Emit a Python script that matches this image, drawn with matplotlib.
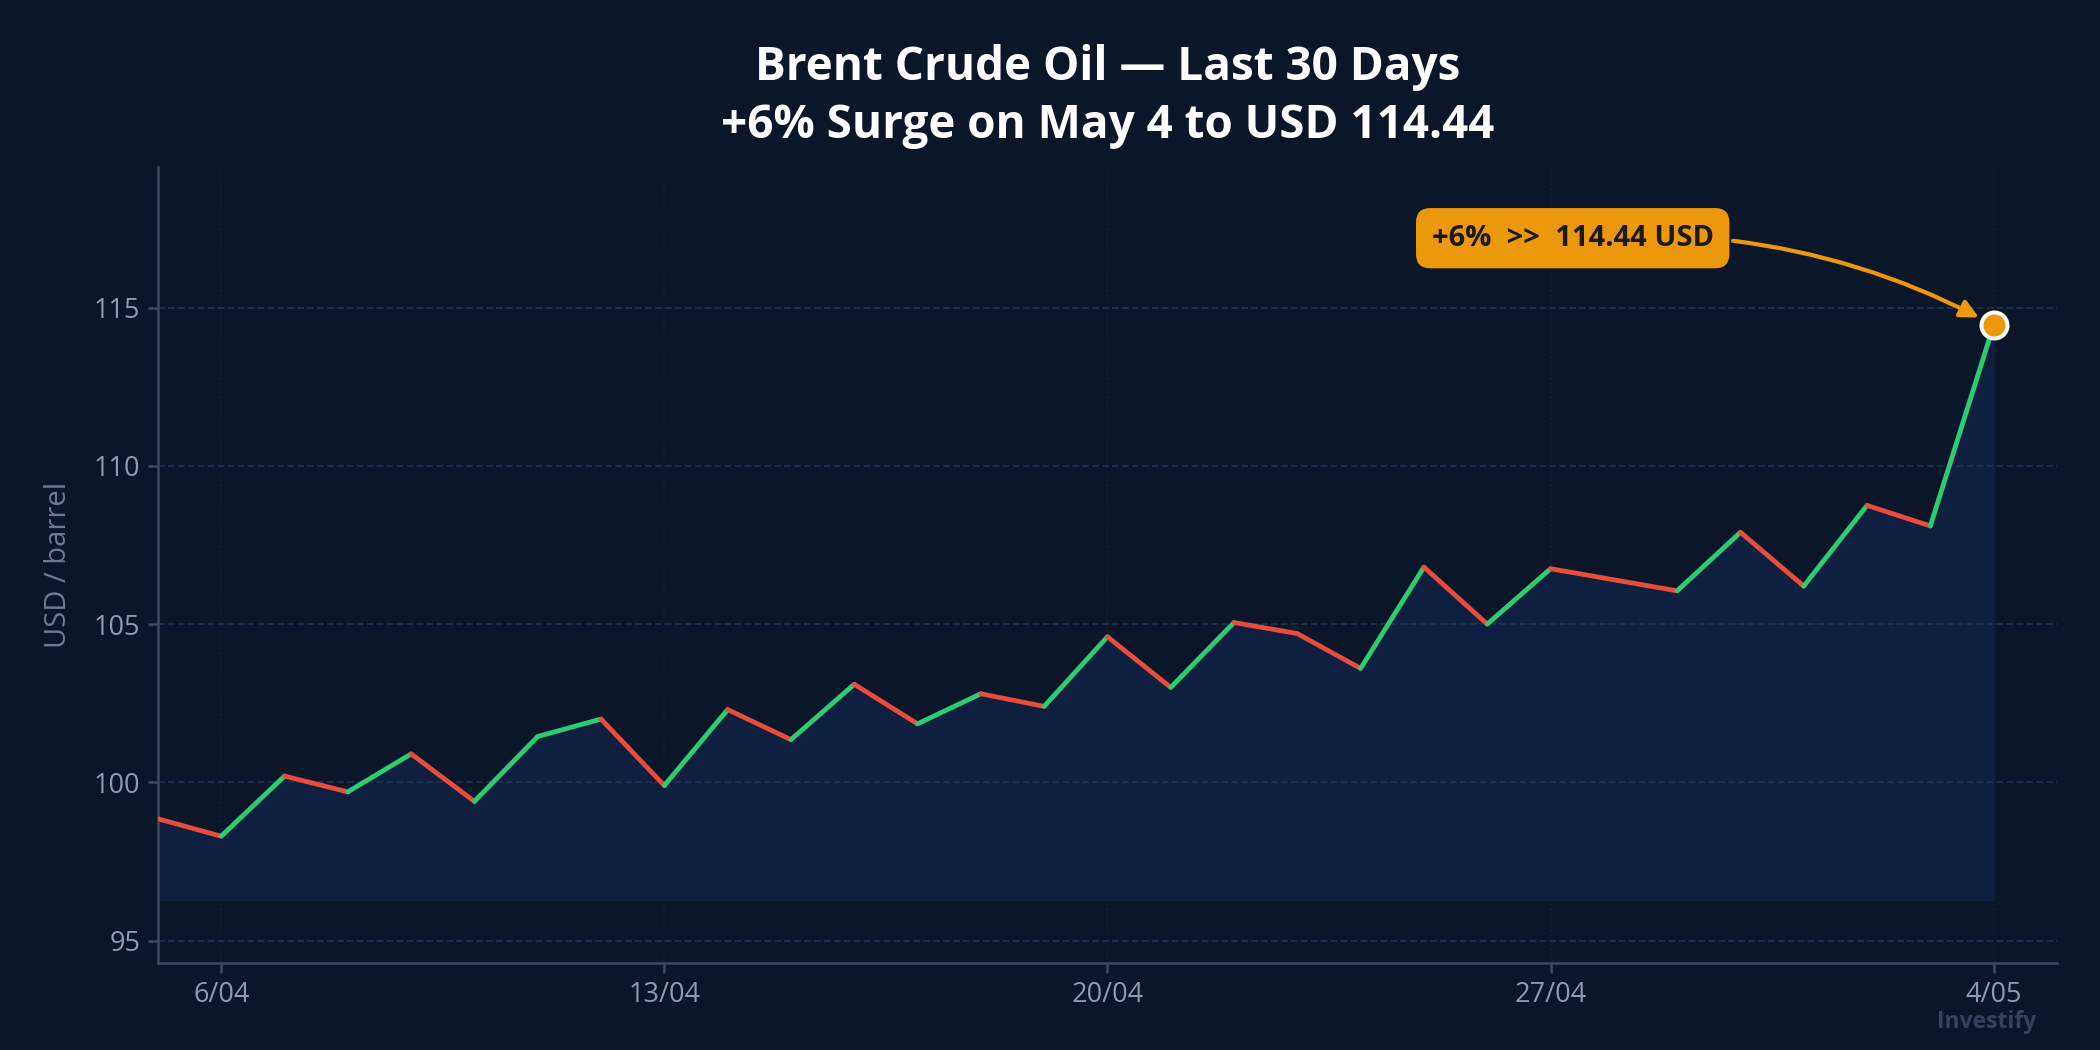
import numpy as np
import pandas as pd
import matplotlib
matplotlib.use("Agg")
import matplotlib.pyplot as plt
import matplotlib.dates as mdates
from matplotlib.ticker import FuncFormatter

plt.rcParams['font.family'] = ['Open Sans', 'Noto Sans', 'DejaVu Sans']

# Brent daily closes, 5 April -> 4 May
dates = pd.date_range('2024-04-05', '2024-05-04', freq='D')
prices = [98.85, 98.30, 100.20, 99.70, 100.90, 99.40, 101.45, 102.00, 99.90, 102.30,
          101.35, 103.10, 101.85, 102.80, 102.40, 104.60, 103.00, 105.05, 104.70, 103.60,
          106.80, 105.00, 106.75, 106.40, 106.05, 107.90, 106.20, 108.75, 108.10, 114.44]
tick_dates = pd.to_datetime(['2024-04-06', '2024-04-13', '2024-04-20', '2024-04-27', '2024-05-04'])
y_ticks = [95, 100, 105, 110, 115]

BG = '#0b1628'
UP = '#2ecc71'
DOWN = '#e74c3c'
ORANGE = '#ec980d'
TXT = '#8c9bb0'

fig = plt.figure(figsize=(14, 7), dpi=150, facecolor=BG)
ax = fig.add_axes([0.0752, 0.083, 0.9043, 0.758])
ax.set_facecolor(BG)

x = mdates.date2num(dates)
base = min(prices) - 2
ax.fill_between(x, prices, base, color='#0e1f40', alpha=1, zorder=1)

# colour each leg by direction
for i in range(1, len(prices)):
    c = UP if prices[i] >= prices[i - 1] else DOWN
    ax.plot(x[i - 1:i + 1], prices[i - 1:i + 1], color=c, lw=2.3, solid_capstyle='round', zorder=3)

ax.plot(x[-1], prices[-1], 'o', ms=12.5, color=ORANGE, mec='white', mew=1.9, zorder=5)

ax.set_xlim(x[0], x[-1] + 1)
ax.set_ylim(min(prices) - 4, max(prices) + 5)
ax.set_xticks(mdates.date2num(tick_dates))
ax.xaxis.set_major_formatter(FuncFormatter(lambda v, p: f"{mdates.num2date(v).day}/{mdates.num2date(v).month:02d}"))
ax.set_yticks(y_ticks)

ax.grid(axis='y', color='#1f2f4f', ls='--', lw=0.9, zorder=0)
ax.grid(axis='x', color='#131f33', ls=':', lw=0.8, zorder=0)

for s in ['top', 'right']:
    ax.spines[s].set_visible(False)
for s in ['left', 'bottom']:
    ax.spines[s].set_color('#3b4a60')
    ax.spines[s].set_linewidth(1.2)
ax.tick_params(colors='#3b4a60', labelcolor=TXT, labelsize=13, length=5, width=1.2)

ax.set_ylabel('USD / barrel', color='#6c7b90', fontsize=14, labelpad=10)

ax.set_title('Brent Crude Oil — Last 30 Days\n+6% Surge on May 4 to USD 114.44',
             color='white', fontsize=22, fontweight='bold', pad=14, linespacing=1.3)

ax.annotate('+6%  >>  114.44 USD', xy=(x[-1], prices[-1]),
            xytext=(x[-1] - 6.65, prices[-1] + 2.75),
            fontsize=14, fontweight='bold', color='#1a1a1a', ha='center', va='center',
            bbox=dict(boxstyle='round,pad=0.5,rounding_size=0.45', fc=ORANGE, ec=ORANGE),
            arrowprops=dict(arrowstyle='-|>', color=ORANGE, lw=2, mutation_scale=18,
                            connectionstyle='arc3,rad=-0.15', shrinkB=8),
            zorder=6)

fig.text(0.946, 0.027, 'Investify', color='#34435a', fontsize=11, fontweight='bold',
         ha='center', va='center')

fig.savefig('out.png', dpi=150, facecolor=BG)
